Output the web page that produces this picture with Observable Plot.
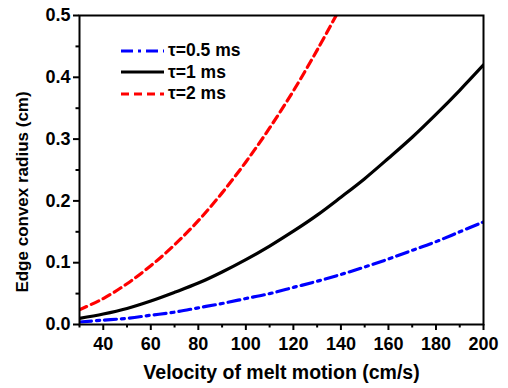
<!DOCTYPE html>
<html><head><meta charset="utf-8">
<script src="https://cdn.jsdelivr.net/npm/d3@7"></script>
<script src="https://cdn.jsdelivr.net/npm/@observablehq/plot@0.6"></script>
<style>
body{margin:0;background:#fff;font-family:"Liberation Sans",Arial,sans-serif;}
#wrap{position:relative;width:508px;height:388px;}
#legend{position:absolute;left:120px;top:40px;font-weight:bold;font-size:17.5px;z-index:2;}
#legend div{display:flex;align-items:center;height:21.5px;}
#legend svg{margin-right:3px;}
</style>
</head><body>
<div id="wrap"><div id="legend"></div></div>
<script>
const velocity = [30,40,50,60,70,80,90,100,110,120,130,140,150,160,170,180,190,200];
const tau05 = [0.004,0.007,0.010,0.015,0.020,0.027,0.034,0.042,0.050,0.060,0.070,0.081,0.093,0.106,0.120,0.134,0.150,0.166];
const tau1  = [0.010,0.017,0.026,0.038,0.052,0.067,0.085,0.105,0.127,0.151,0.177,0.206,0.236,0.269,0.303,0.340,0.379,0.420];
const velocityRed = [30,40,50,60,70,80,90,100,110,120,130,138];
const tau2  = [0.024,0.042,0.066,0.095,0.129,0.168,0.213,0.263,0.318,0.378,0.444,0.500];
const seriesNames = ["τ=0.5 ms","τ=1 ms","τ=2 ms"];
const seriesColors = ["#0000ff","#000000","#ff0000"];
const seriesDash = ["12,5,3,5","none","8,5"];
const xTicks = [40,60,80,100,120,140,160,180,200];
const xMinor = [30,50,70,90,110,130,150,170,190];
const yTicks = [0,0.1,0.2,0.3,0.4,0.5];
const yMinor = [0.05,0.15,0.25,0.35,0.45];
const xTitle = "Velocity of melt motion (cm/s)";
const yTitle = "Edge convex radius (cm)";

const d05 = velocity.map((v,i)=>({v, r:tau05[i]}));
const d1 = velocity.map((v,i)=>({v, r:tau1[i]}));
const d2 = velocityRed.map((v,i)=>({v, r:tau2[i]}));

const chart = Plot.plot({
  width: 508, height: 388,
  marginLeft: 79, marginRight: 25, marginTop: 15, marginBottom: 64,
  style: {fontFamily: '"Liberation Sans", Arial, sans-serif', fontWeight: "bold", fontSize: "18px", color: "#000", background: "#fff", overflow: "visible"},
  x: {domain: [30,200]},
  y: {domain: [0,0.5]},
  marks: [
    Plot.line(d05, {x:"v", y:"r", stroke: seriesColors[0], strokeWidth: 3.2, strokeDasharray: seriesDash[0], curve: "catmull-rom", clip: true}),
    Plot.line(d1, {x:"v", y:"r", stroke: seriesColors[1], strokeWidth: 3.2, curve: "catmull-rom", clip: true}),
    Plot.line(d2, {x:"v", y:"r", stroke: seriesColors[2], strokeWidth: 3.2, strokeDasharray: seriesDash[2], curve: "catmull-rom", clip: true}),
    Plot.axisX({ticks: xMinor, tickSize: 3.5, tickFormat: () => "", strokeWidth: 2, label: null}),
    Plot.axisX({ticks: xTicks, tickSize: 6, tickPadding: 7, strokeWidth: 2, fontSize: 18, tickFormat: d3.format("d"),
      label: null}),
    Plot.axisY({ticks: yMinor, tickSize: 3.5, tickFormat: () => "", strokeWidth: 2, label: null}),
    Plot.axisY({ticks: yTicks, tickSize: 6, tickPadding: 3, strokeWidth: 2, fontSize: 18, tickFormat: d3.format(".1f"),
      label: null}),
    Plot.text([xTitle], {frameAnchor: "bottom", dy: 54, fontSize: 19.5, fontWeight: "bold", fill: "#000"}),
    Plot.text([yTitle], {frameAnchor: "left", textAnchor: "middle", rotate: -90, dx: -57, dy: 22, fontSize: 17, fontWeight: "bold", fill: "#000"}),
    Plot.frame({stroke: "#000", strokeWidth: 2})
  ]
});
document.getElementById("wrap").prepend(chart);
chart.style.position = "absolute"; chart.style.left = "0"; chart.style.top = "0";

const leg = document.getElementById("legend");
seriesNames.forEach((name,i)=>{
  const row = document.createElement("div");
  row.innerHTML = `<svg width="45" height="8"><line x1="1" y1="4" x2="44" y2="4" stroke="${seriesColors[i]}" stroke-width="3.2" stroke-dasharray="${seriesDash[i]}"/></svg><span>${name}</span>`;
  leg.appendChild(row);
});
</script>
</body></html>
